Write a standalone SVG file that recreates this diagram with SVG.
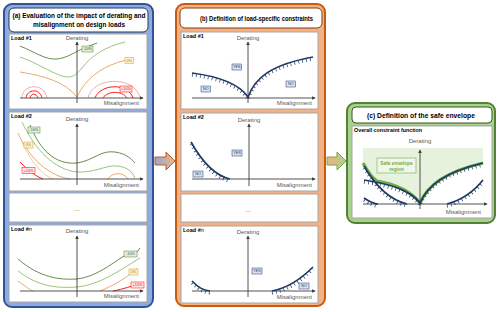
<svg xmlns="http://www.w3.org/2000/svg" width="500" height="312" viewBox="0 0 500 312">
<style>
text{font-family:"Liberation Sans",Arial,sans-serif}
.ttl{font-size:7px;font-weight:bold;fill:#000;text-anchor:middle}
.ld{font-size:5.5px;font-weight:bold;fill:#000}
.ax{font-size:6px;fill:#595959}
.axm{font-size:6px;fill:#595959;text-anchor:end}
.axd{font-size:6px;fill:#595959;text-anchor:middle}
.sub{fill:#fff;stroke:#a6a6a6;stroke-width:1}
.axis{stroke:#404040;stroke-width:0.9;fill:none;marker-end:url(#ah)}
.c{fill:none;stroke-width:0.9}
.g1{stroke:#548235}.g2{stroke:#8fbc6b}.o1{stroke:#e3a15e}.o2{stroke:#f4c08f}.r1{stroke:#ff0000}.r2{stroke:#f4a3a3}
.nv{fill:none;stroke:#1f3864;stroke-width:1.7}
.ht{fill:none;stroke:#1f3864;stroke-width:3;stroke-dasharray:0.7 3.3}
.yn rect{fill:#dae3f3;stroke:#1f3864;stroke-width:0.5}
.yn text{font-size:3.8px;fill:#1f3864;text-anchor:middle}
.pl text{font-size:3.8px;text-anchor:middle}
.dots{font-size:7px;fill:#7f7f7f;text-anchor:middle}
</style>
<defs>
<marker id="ah" viewBox="0 0 6 6" refX="5" refY="3" markerWidth="4" markerHeight="4" orient="auto"><path d="M0,0 L6,3 L0,6 z" fill="#404040"/></marker>
<linearGradient id="gab" x1="0" x2="1" y1="0" y2="0"><stop offset="0" stop-color="#8faadc"/><stop offset="1" stop-color="#f4b183"/></linearGradient>
<linearGradient id="gbc" x1="0" x2="1" y1="0" y2="0"><stop offset="0" stop-color="#f4b183"/><stop offset="1" stop-color="#a9d18e"/></linearGradient>
<pattern id="dotp" width="2" height="2" patternUnits="userSpaceOnUse"><rect width="2" height="2" fill="#eef6e8"/><circle cx="1" cy="1" r="0.5" fill="#c5e0b4"/></pattern>
</defs>

<g id="panel-a">
<rect x="4" y="4" width="149" height="303" rx="8" fill="#8faadc" stroke="#2f5597" stroke-width="2"/>
<rect x="9" y="8" width="139" height="24" rx="5" fill="#fff" stroke="#1f3864" stroke-width="1"/>
<text class="ttl" x="79" y="18" textLength="133" lengthAdjust="spacingAndGlyphs">(a) Evaluation of the impact of derating and</text>
<text class="ttl" x="79" y="27" textLength="92" lengthAdjust="spacingAndGlyphs">misalignment on design loads</text>
</g>

<g id="a-load1">
<rect class="sub" x="9" y="34" width="138" height="75"/>
<text class="ld" x="11" y="39.5">Load #1</text>
<text class="axd" x="77" y="40">Derating</text>
<text class="axm" x="139" y="105">Misalignment</text>
<path class="c g1" d="M20,46 C35,52 45,60 57,59 C67,58 75,52 84,48 L97,43"/>
<path class="c g2" d="M20,57 C35,62 50,72 62,76 C72,79 76,75 82,68 C92,55 105,47 125,42"/>
<path class="c o1" d="M20,72 C45,76 65,82 77,97 C85,80 100,66 127,60"/>
<path class="c r2" d="M22,98 C22,84 44,82 47,98"/>
<path class="c r1" d="M26,98 C27,89 40,88 42,98 M30,98 C31,93 36,93 38,98"/>
<path class="c r2" d="M88,98 C92,78 132,74 140,97"/>
<path class="c r1" d="M95,98 C100,84 128,82 133,98 M103,98 C107,91 122,90 127,98"/>
<path class="axis" d="M20,98 H143"/>
<path class="axis" d="M77,103 V42"/>
<g class="pl"><rect x="82" y="46" width="11" height="6" fill="#e2f0d9" stroke="#548235" stroke-width="0.5"/><text x="87.5" y="50.4" fill="#385723">-10%</text>
<rect x="125" y="57.5" width="8.5" height="6" fill="#fff2cc" stroke="#d39b2a" stroke-width="0.5"/><text x="129.25" y="61.9" fill="#b07a10">0%</text>
<rect x="120" y="86" width="12" height="6" fill="#ffe5e5" stroke="#ff0000" stroke-width="0.5"/><text x="126" y="90.4" fill="#ff0000">+10%</text></g>
</g>

<g id="a-load2">
<rect class="sub" x="9" y="112" width="138" height="79"/>
<text class="ld" x="11" y="118">Load #2</text>
<text class="axd" x="77" y="121">Derating</text>
<text class="axm" x="139" y="187">Misalignment</text>
<path class="c g1" d="M30,125 C40,150 55,165 77,163 C95,160 100,150 115,152 C128,154 132,160 135,163"/>
<path class="c g2" d="M22,122 C35,150 55,170 77,172 C95,173 105,165 117,166 C128,167 132,172 135,178"/>
<path class="c o1" d="M18,133 C30,160 50,176 70,179"/>
<path class="c o2" d="M22,142 C30,160 42,175 53,179"/>
<path class="c o1" d="M108,179 C112,172 124,172 128,179"/>
<path class="c r1" d="M20,162 C28,170 35,176 43,179"/>
<path class="axis" d="M20,179 H143"/>
<path class="axis" d="M77,185 V124"/>
<g class="pl"><rect x="28" y="127" width="12" height="6" fill="#e2f0d9" stroke="#548235" stroke-width="0.5"/><text x="34" y="131.4" fill="#385723">-10%</text>
<rect x="24" y="142" width="9" height="6" fill="#fff2cc" stroke="#d39b2a" stroke-width="0.5"/><text x="28.5" y="146.4" fill="#b07a10">0%</text>
<rect x="22" y="167.5" width="13" height="6" fill="#ffe5e5" stroke="#ff0000" stroke-width="0.5"/><text x="28.5" y="171.9" fill="#ff0000">+10%</text></g>
</g>

<g id="a-dots">
<rect class="sub" x="9" y="193" width="138" height="29"/>
<text class="dots" x="77" y="211">...</text>
</g>

<g id="a-loadn">
<rect class="sub" x="9" y="225" width="138" height="77"/>
<text class="ld" x="11" y="231">Load #<tspan font-style="italic" font-weight="normal">n</tspan></text>
<text class="axd" x="77" y="233">Derating</text>
<text class="axm" x="139" y="298">Misalignment</text>
<path class="c g1" d="M18,259 C40,278 60,280 77,279 C95,277 110,265 124,256 M137,252 L140,248"/>
<path class="c g2" d="M18,271 C40,288 60,288 77,287 C100,285 120,270 140,258"/>
<path class="c o1" d="M18,281 C25,286 30,290 33,291"/>
<path class="c o1" d="M100,291 C115,285 128,277 137,268"/>
<path class="c r1" d="M113,291 C123,289 133,286 140,283"/>
<path class="axis" d="M20,291 H143"/>
<path class="axis" d="M77,297 V236"/>
<g class="pl"><rect x="124" y="251" width="13" height="6" fill="#e2f0d9" stroke="#548235" stroke-width="0.5"/><text x="130.5" y="255.4" fill="#385723">-10%</text>
<rect x="129" y="269" width="9" height="6" fill="#fff2cc" stroke="#d39b2a" stroke-width="0.5"/><text x="133.5" y="273.4" fill="#b07a10">0%</text>
<rect x="131" y="282" width="13" height="6" fill="#ffe5e5" stroke="#ff0000" stroke-width="0.5"/><text x="137.5" y="286.4" fill="#ff0000">+10%</text></g>
</g>

<g id="panel-b">
<rect x="176" y="4" width="149" height="302" rx="8" fill="#f4b183" stroke="#c55a11" stroke-width="2"/>
<rect x="180" y="8" width="142" height="20" rx="5" fill="#fff" stroke="#843c0c" stroke-width="1"/>
<text class="ttl" x="256.5" y="20.5" textLength="113" lengthAdjust="spacingAndGlyphs">(b) Definition of load-specific constraints</text>
</g>

<g id="b-load1">
<rect class="sub" x="181" y="32" width="137" height="77"/>
<text class="ld" x="183" y="37.5">Load #1</text>
<text class="axd" x="248" y="40">Derating</text>
<text class="axm" x="312" y="105">Misalignment</text>
<path class="axis" d="M192,98 H315"/>
<path class="axis" d="M248,103 V42"/>
<path class="nv" d="M192,73 C215,76 238,82 248,97 C255,78 270,65 313,57"/>
<path class="ht" transform="translate(0,2.2)" d="M192,73 C215,76 238,82 248,97 C255,78 270,65 313,57"/>
<g class="yn"><rect x="232" y="64" width="9.5" height="6"/><text x="236.75" y="68.4">YES</text>
<rect x="201" y="86" width="9.5" height="6"/><text x="205.75" y="90.4">NO</text>
<rect x="286" y="81" width="9.5" height="6"/><text x="290.75" y="85.4">NO</text></g>
</g>

<g id="b-load2">
<rect class="sub" x="181" y="113" width="137" height="78"/>
<text class="ld" x="183" y="119">Load #2</text>
<text class="axd" x="249" y="122">Derating</text>
<text class="axm" x="312" y="187">Misalignment</text>
<path class="axis" d="M192,179 H315"/>
<path class="axis" d="M249,186 V124"/>
<path class="nv" d="M191,142 C200,158 212,175 230,179"/>
<path class="ht" transform="translate(0,2.2)" d="M191,142 C200,158 212,175 230,179"/>
<g class="yn"><rect x="232" y="150" width="10" height="6"/><text x="237" y="154.4">YES</text>
<rect x="193" y="171" width="10" height="6"/><text x="198" y="175.4">NO</text></g>
</g>

<g id="b-dots">
<rect class="sub" x="181" y="194" width="137" height="28"/>
<text class="dots" x="248" y="212">...</text>
</g>

<g id="b-loadn">
<rect class="sub" x="181" y="226" width="137" height="77"/>
<text class="ld" x="183" y="232">Load #<tspan font-style="italic" font-weight="normal">n</tspan></text>
<text class="axd" x="248" y="234">Derating</text>
<text class="axm" x="312" y="299">Misalignment</text>
<path class="axis" d="M192,291 H315"/>
<path class="axis" d="M248,297 V236"/>
<path class="nv" d="M192,281 C198,287 202,290 210,291 M272,291 C288,288 300,280 313,267"/>
<path class="ht" transform="translate(0,2.2)" d="M192,281 C198,287 202,290 210,291 M272,291 C288,288 300,280 313,267"/>
<g class="yn"><rect x="252" y="268" width="10" height="6"/><text x="257" y="272.4">YES</text>
<rect x="299" y="283" width="10" height="6"/><text x="304" y="287.4">NO</text></g>
</g>

<g id="panel-c">
<rect x="347" y="103" width="148" height="120" rx="8" fill="#a9d18e" stroke="#548235" stroke-width="2"/>
<rect x="352" y="107" width="140" height="16" rx="4" fill="#fff" stroke="#385723" stroke-width="1"/>
<text class="ttl" x="421" y="117.5" textLength="108" lengthAdjust="spacingAndGlyphs">(c) Definition of the safe envelope</text>
<rect class="sub" x="352" y="126" width="140" height="92"/>
<text x="354" y="131.5" font-size="5px" font-weight="bold" fill="#000" textLength="68" lengthAdjust="spacingAndGlyphs">Overall constraint function</text>
<text class="axd" x="420" y="143">Derating</text>
<text class="axm" x="481" y="214">Misalignment</text>
<path d="M363,148 H483 V163 C445,172 428,185 420,203 C410,190 395,184 377,181 C372,178 368,172 363,163 Z" fill="url(#dotp)"/>
<path d="M363,163 C368,172 372,178 377,181 C395,184 410,190 420,203 C428,185 445,172 483,163" fill="none" stroke="#70ad47" stroke-width="3.2"/>
<path class="axis" d="M363,204 H487"/>
<path class="axis" d="M420,209 V150"/>
<path class="nv" d="M364,180 C390,184 410,190 420,203 C428,185 445,172 483,163 M364,166 C375,185 390,200 407,204 M364,198 C370,202 374,204 378,204 M447,204 C462,200 475,190 483,180"/>
<path class="ht" transform="translate(0,2.2)" d="M364,180 C390,184 410,190 420,203 C428,185 445,172 483,163 M364,166 C375,185 390,200 407,204 M364,198 C370,202 374,204 378,204 M447,204 C462,200 475,190 483,180"/>
<rect x="377" y="158" width="39" height="15" fill="#f0f7ea" stroke="#70ad47" stroke-width="0.6"/>
<text x="396.5" y="164.5" font-size="4.8px" fill="#70ad47" text-anchor="middle" font-weight="bold">Safe envelope</text>
<text x="396.5" y="170.5" font-size="4.8px" fill="#70ad47" text-anchor="middle" font-weight="bold">region</text>
</g>

<g id="connectors">
<path d="M155,157 H166 V152 L175,161 L166,170 V165 H155 Z" fill="url(#gab)" stroke="#c55a11" stroke-width="1"/>
<path d="M327,157 H337 V152 L346,161 L337,170 V165 H327 Z" fill="url(#gbc)" stroke="#70ad47" stroke-width="1"/>
</g>
</svg>
